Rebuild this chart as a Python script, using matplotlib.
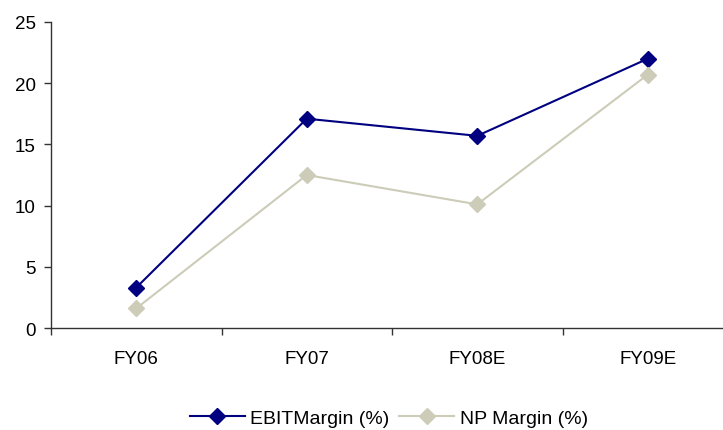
import matplotlib.pyplot as plt
from matplotlib.ticker import FixedLocator, NullFormatter

plt.rcParams['font.family'] = ['Liberation Sans', 'DejaVu Sans']

years = ['FY06', 'FY07', 'FY08E', 'FY09E']
ebit_margin = [3.3, 17.1, 15.7, 22.0]
np_margin = [1.6, 12.5, 10.1, 20.7]

fig = plt.figure(figsize=(7.23, 4.31), dpi=100)
W, H = 723, 431
ax = fig.add_axes([51 / W, 1 - 329 / H, 682 / W, (329 - 23) / H])

x = range(len(years))
ax.plot(x, ebit_margin, color='#000080', marker='D', markersize=8, lw=1.5,
        label='EBITMargin (%)', clip_on=False)
ax.plot(x, np_margin, color='#CCCCB8', marker='D', markersize=8, lw=1.5,
        label='NP Margin (%)', clip_on=False)

ax.set_xlim(-0.5, len(years) - 0.5)
ax.set_ylim(0, 25)
ax.set_yticks(range(0, 26, 5))

# category labels sit between the boundary ticks
ax.xaxis.set_major_locator(FixedLocator([i - 0.5 for i in range(len(years) + 1)]))
ax.xaxis.set_major_formatter(NullFormatter())
ax.set_xticks(list(x), minor=True)
ax.set_xticklabels(years, minor=True)
ax.tick_params(axis='x', which='minor', length=0, pad=16, labelsize=13.5)
ax.tick_params(axis='x', which='major', length=5, width=1, color='#333333')
ax.tick_params(axis='y', length=5, width=1, color='#333333', labelsize=13.5, pad=6)

for side in ('top', 'right'):
    ax.spines[side].set_visible(False)
for side in ('left', 'bottom'):
    ax.spines[side].set_color('#333333')
    ax.spines[side].set_linewidth(1)

fig.legend(loc='center', bbox_to_anchor=(389 / W, 1 - 419 / H), ncol=2, frameon=False,
           fontsize=14, handlelength=2.8, columnspacing=0.5, handletextpad=0.3)

fig.savefig('out.png', dpi=100)
